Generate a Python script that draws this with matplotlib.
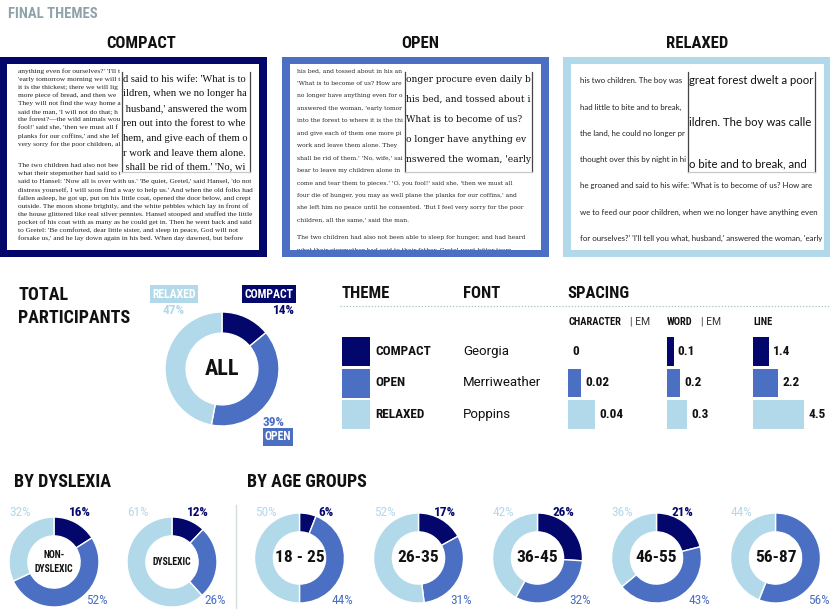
import matplotlib
matplotlib.use("Agg")
import matplotlib.pyplot as plt
from matplotlib import font_manager
from matplotlib.patches import Rectangle

W, H = 830, 609

NAVY = "#03066b"
BLUE = "#4a6fc3"
LIGHT = "#b2d9ea"
GREY = "#8ea3a9"
INK = "#111111"

# ---- data ----
themes = ["COMPACT", "OPEN", "RELAXED"]
theme_colors = [NAVY, BLUE, LIGHT]
fonts = ["Georgia", "Merriweather", "Poppins"]
char_spacing = [0, 0.02, 0.04]
word_spacing = [0.1, 0.2, 0.3]
line_spacing = [1.4, 2.2, 4.5]

total_share = [14, 39, 47]   # compact, open, relaxed

dyslexia_groups = ["NON-\nDYSLEXIC", "DYSLEXIC"]
dyslexia_share = [[16, 52, 32], [12, 26, 61]]

age_groups = ["18 - 25", "26-35", "36-45", "46-55", "56-87"]
age_share = [[6, 44, 50], [17, 31, 52], [26, 32, 42], [21, 43, 36], [0, 56, 44]]

compact_text = [
    "anything even for ourselves?' 'I'll tell you what, husband,' answered the woman,",
    "'early tomorrow morning we will take the children out into the forest to where",
    "it is the thickest; there we will light a fire for them, and give each of them one",
    "more piece of bread, and then we will go to our work and leave them alone.",
    "They will not find the way home again, and we shall be rid of them.' 'No, wife,'",
    "said the man, 'I will not do that; how can I bear to leave my children alone in",
    "the forest?\u2014the wild animals would soon come and tear them to pieces.' 'O, you",
    "fool!' said she, 'then we must all four die of hunger, you may as well plane the",
    "planks for our coffins,' and she left him no peace until he consented. 'But I feel",
    "very sorry for the poor children, all the same,' said the man.",
    "",
    "The two children had also not been able to sleep for hunger, and had heard",
    "what their stepmother had said to their father. Gretel wept bitter tears, and",
    "said to Hansel: 'Now all is over with us.' 'Be quiet, Gretel,' said Hansel, 'do not",
    "distress yourself, I will soon find a way to help us.' And when the old folks had",
    "fallen asleep, he got up, put on his little coat, opened the door below, and crept",
    "outside. The moon shone brightly, and the white pebbles which lay in front of",
    "the house glittered like real silver pennies. Hansel stooped and stuffed the little",
    "pocket of his coat with as many as he could get in. Then he went back and said",
    "to Gretel: 'Be comforted, dear little sister, and sleep in peace, God will not",
    "forsake us,' and he lay down again in his bed. When day dawned, but before",
]
compact_zoom = [
    "d said to his wife: 'What is to",
    "ildren, when we no longer have",
    " husband,' answered the woman",
    "ren out into the forest to where",
    "hem, and give each of them one",
    "r work and leave them alone.",
    " shall be rid of them.' 'No, wife",
]

open_text = [
    "his bed, and tossed about in his anxiety, he groaned and said to his wife:",
    "'What is to become of us? How are we to feed our poor children, when we",
    "no longer have anything even for ourselves?' 'I'll tell you what, husband,'",
    "answered the woman, 'early tomorrow morning we will take the children out",
    "into the forest to where it is the thickest; there we will light a fire for them,",
    "and give each of them one more piece of bread, and then we will go to our",
    "work and leave them alone. They will not find the way home again, and we",
    "shall be rid of them.' 'No, wife,' said the man, 'I will not do that; how can I",
    "bear to leave my children alone in the forest?\u2014the wild animals would soon",
    "come and tear them to pieces.' 'O, you fool!' said she, 'then we must all",
    "four die of hunger, you may as well plane the planks for our coffins,' and",
    "she left him no peace until he consented. 'But I feel very sorry for the poor",
    "children, all the same,' said the man.",
    "",
    "The two children had also not been able to sleep for hunger, and had heard",
    "what their stepmother had said to their father. Gretel wept bitter tears,",
]
open_zoom = [
    "onger procure even daily bread",
    "his bed, and tossed about in his",
    "What is to become of us? How",
    "o longer have anything even",
    "nswered the woman, 'early",
]

relaxed_text = [
    "his two children. The boy was called Hansel and the girl Gretel. He",
    "had little to bite and to break, and once when great dearth fell on",
    "the land, he could no longer procure even daily bread. Now when he",
    "thought over this by night in his bed, and tossed about in his anxiety,",
    "he groaned and said to his wife: 'What is to become of us? How are",
    "we to feed our poor children, when we no longer have anything even",
    "for ourselves?' 'I'll tell you what, husband,' answered the woman, 'early",
]
relaxed_zoom = [
    "great forest dwelt a poor",
    "ildren. The boy was called",
    "o bite and to break, and",
]

# ---- fonts ----
installed = {f.name for f in font_manager.fontManager.ttflist}


def pick(*names):
    for n in names:
        if n in installed:
            return n
    return "DejaVu Sans"


COND = pick("Roboto Condensed", "Liberation Sans Narrow", "DejaVu Sans")
STRETCH = "condensed" if COND == "DejaVu Sans" else "normal"
SANS = pick("Roboto", "Open Sans", "DejaVu Sans")
SERIF_A = pick("Liberation Serif", "DejaVu Serif")
SERIF_B = pick("DejaVu Serif", "Liberation Serif")
GEO = pick("Lato", "Open Sans", "DejaVu Sans")

fig = plt.figure(figsize=(W / 100, H / 100), dpi=100)
renderer = fig.canvas.get_renderer()
base = fig.add_axes([0, 0, 1, 1])
base.set_xlim(0, W)
base.set_ylim(H, 0)
base.axis("off")


def px_axes(x0, y0, x1, y1, **kw):
    return fig.add_axes([x0 / W, 1 - y1 / H, (x1 - x0) / W, (y1 - y0) / H], **kw)


def head(x, y, s, size, color=INK, ha="left", weight="bold", **kw):
    return base.text(x, y, s, fontsize=size, color=color, ha=ha, va="center",
                     family=COND, fontstretch=STRETCH, weight=weight, **kw)


def tag(x, y, s, color):
    head(x, y, s, 8.5, color="white", ha="center",
         bbox=dict(boxstyle="square,pad=0.18", fc=color, ec="none"))


def fit(t, xmax):
    # drop trailing characters until the line ends before xmax (figure pixels)
    s = t.get_text()
    while s and t.get_window_extent(renderer).x1 > xmax:
        s = s[:-1]
        t.set_text(s)


def bare(ax, x0, y0, x1, y1):
    ax.set_xlim(x0, x1)
    ax.set_ylim(y1, y0)
    ax.set_facecolor("white")
    ax.set_xticks([])
    ax.set_yticks([])


# ---- FINAL THEMES ----
head(8, 14, "FINAL THEMES", 10.5, color=GREY)


def panel(name, color, outer, inner, indent, lines, family, size, y0, step, gap,
          zbox, zlines, zsize, zy0, zstep, cx):
    head(cx, 44, name, 12, ha="center")
    ox0, oy0, ox1, oy1 = outer
    base.add_patch(Rectangle((ox0, oy0), ox1 - ox0, oy1 - oy0, fc=color, ec="none"))
    ix0, iy0, ix1, iy1 = inner
    zx0, zt, zx1, zb = zbox
    ax = px_axes(ix0, iy0, ix1, iy1)
    bare(ax, ix0, iy0, ix1, iy1)
    for sp in ax.spines.values():
        sp.set_visible(False)
    y = y0
    for ln in lines:
        if ln == "":
            y += gap
            continue
        t = ax.text(ix0 + indent, y, ln, fontsize=size, family=family,
                    color="#222222", va="center", clip_on=True)
        fit(t, zx0 - 1 if zt - 3 < y < zb + 3 else ix1 - 1)
        y += step
    zax = px_axes(zx0, zt, zx1, zb)
    bare(zax, zx0, zt, zx1, zb)
    zax.spines["top"].set_visible(False)
    for s in ("left", "right"):
        zax.spines[s].set_color("#444444")
        zax.spines[s].set_linewidth(0.9)
    zax.spines["bottom"].set_color("#c8c8c8")
    zax.spines["bottom"].set_linewidth(0.9)
    for i, ln in enumerate(zlines):
        t = zax.text(zx0 + 1, zy0 + i * zstep, ln, fontsize=zsize, family=family,
                     color="#111111", va="center", clip_on=True)
        fit(t, zx1 - 1)


panel("COMPACT", NAVY, (0, 57, 267, 257), (7, 64, 259, 250), 11, compact_text,
      SERIF_A, 5.3, 71, 8.1, 13.6, (122, 72, 250, 172), compact_zoom, 7.6, 79, 14.8, 141)
panel("OPEN", BLUE, (282, 57, 549, 257), (290, 64, 541, 250), 7, open_text,
      SERIF_B, 4.3, 71, 12.45, 5.0, (405, 72, 532, 172), open_zoom, 6.6, 79, 20, 420)
panel("RELAXED", LIGHT, (563, 57, 830, 257), (571, 64, 824, 250), 9, relaxed_text,
      GEO, 5.7, 81, 26.2, 0, (688, 72, 815, 172), relaxed_zoom, 8.2, 80, 42, 697)


# ---- donuts ----
def donut(cx, cy, r, shares, width):
    ax = px_axes(cx - r, cy - r, cx + r, cy + r)
    ax.pie(shares, colors=theme_colors, startangle=90, counterclock=False, radius=1,
           wedgeprops=dict(width=width, edgecolor="white", linewidth=1))
    ax.set_xlim(-1, 1)
    ax.set_ylim(-1, 1)
    ax.set_aspect("equal")
    ax.axis("off")
    return ax


# TOTAL PARTICIPANTS
head(18, 295, "TOTAL", 13)
head(18, 318, "PARTICIPANTS", 13)
donut(222, 369, 57, total_share, 0.37)
head(222, 369, "ALL", 16, ha="center")
tag(174, 294, "RELAXED", LIGHT)
head(174, 311, f"{total_share[2]}%", 9.5, color=LIGHT, ha="center")
tag(269, 294, "COMPACT", NAVY)
head(284, 311, f"{total_share[0]}%", 9.5, color=NAVY, ha="center")
head(274, 423, f"{total_share[1]}%", 9.5, color=BLUE, ha="center")
tag(278, 437, "OPEN", BLUE)

# ---- table ----
head(342, 294, "THEME", 12)
head(463, 294, "FONT", 12)
head(567, 294, "SPACING", 12)
base.plot([340, 830], [306, 306], color="#a9c4c9", lw=0.9, ls=(0, (1, 1.5)))

head(568, 322, "CHARACTER", 7.5)
base.text(630, 322, "| EM", fontsize=7.5, family=SANS, va="center", color="#333333")
head(667, 322, "WORD", 7.5)
base.text(701, 322, "| EM", fontsize=7.5, family=SANS, va="center", color="#333333")
head(753, 322, "LINE", 7.5)

row_y = [351.5, 383, 414.5]
for i, (t, c, f) in enumerate(zip(themes, theme_colors, fonts)):
    base.add_patch(Rectangle((342, row_y[i] - 14.5), 28, 29, fc=c, ec="none"))
    head(375, row_y[i], t, 9.5)
    base.text(463, row_y[i], f, fontsize=9.5, family=SANS, va="center", color=INK)


def spacing_col(x0, x1, px_per_unit, values):
    ax = px_axes(x0, 335.75, x1, 430.25)
    ax.barh(range(len(values)), values, height=0.92, color=theme_colors)
    ax.set_xlim(0, (x1 - x0) / px_per_unit)
    ax.set_ylim(2.5, -0.5)
    ax.axis("off")
    for i, v in enumerate(values):
        ax.annotate(f"{v:g}", (v, i), xytext=(3, 0), textcoords="offset points",
                    va="center", ha="left", fontsize=9.5, family=COND,
                    fontstretch=STRETCH, weight="bold", color=INK)


spacing_col(568, 660, 670, char_spacing)
spacing_col(667, 745, 67, word_spacing)
spacing_col(753, 830, 11.4, line_spacing)

# ---- bottom ----
head(14, 482, "BY DYSLEXIA", 13)
head(247, 482, "BY AGE GROUPS", 13)
base.plot([236, 236], [505, 609], color="#d3dcde", lw=1)


def small(cx, cy, shares, label, label_size):
    donut(cx, cy, 45, shares, 0.42)
    head(cx, cy, label, label_size, ha="center", linespacing=1.5)
    if shares[2]:
        head(cx - 34, 513, f"{shares[2]}%", 9.5, color=LIGHT, ha="center", weight="normal")
    if shares[0]:
        head(cx + 26, 513, f"{shares[0]}%", 9.5, color=NAVY, ha="center")
    if shares[1]:
        head(cx + 43, 600, f"{shares[1]}%", 9.5, color=BLUE, ha="center", weight="normal")


for cx, lbl, sh in zip([54, 172], dyslexia_groups, dyslexia_share):
    small(cx, 562, sh, lbl, 7)

for i, (lbl, sh) in enumerate(zip(age_groups, age_share)):
    small(299.5 + 119 * i, 558, sh, lbl, 12.5)

fig.savefig("out.png", dpi=100)
